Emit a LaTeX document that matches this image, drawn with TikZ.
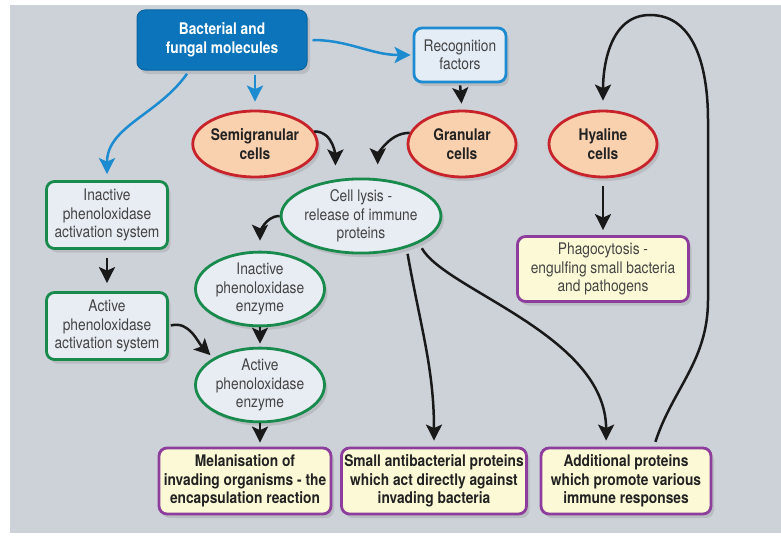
\documentclass[tikz,border=0pt]{standalone}
\usepackage{fontspec}
\setmainfont{TeX Gyre Heros}[FakeStretch=0.86]
\usetikzlibrary{shapes.geometric,arrows.meta,shadows}
\definecolor{pBg}{HTML}{CDD2D9}
\definecolor{pBlue}{HTML}{0C74BA}
\definecolor{pBlueLine}{HTML}{1C8BD0}
\definecolor{pBlueFill}{HTML}{E4ECF6}
\definecolor{pPeach}{HTML}{FAD1AE}
\definecolor{pRed}{HTML}{C8232B}
\definecolor{pGreen}{HTML}{178A4C}
\definecolor{pGreyFill}{HTML}{E8EDF4}
\definecolor{pPurple}{HTML}{8D3D9B}
\definecolor{pCream}{HTML}{FCFAD6}
\definecolor{pText}{HTML}{444444}
\definecolor{pDark}{HTML}{222222}
\newcommand{\pDiagFont}{\fontsize{16}{18.5}\selectfont}

\begin{document}
\begin{tikzpicture}[x=1pt,y=-1pt,
  pShadow/.style={drop shadow={shadow xshift=3pt,shadow yshift=-4pt,opacity=.25}},
  pBox/.style={rectangle,rounded corners=8pt,line width=2.8pt,align=center,inner sep=0pt,font=\pDiagFont,text=pText,pShadow},
  pOval/.style={ellipse,line width=2.8pt,align=center,inner sep=0pt,font=\pDiagFont,text=pText,pShadow},
  pCell/.style={pOval,draw=pRed,fill=pPeach,font=\pDiagFont\bfseries,text=pDark,minimum width=108pt,minimum height=66pt},
  pGreenBox/.style={pBox,draw=pGreen,fill=pGreyFill,minimum width=121pt,minimum height=67pt},
  pGreenOval/.style={pOval,draw=pGreen,fill=pGreyFill,minimum width=129pt,minimum height=72pt},
  pResult/.style={pBox,draw=pPurple,fill=pCream,font=\pDiagFont\bfseries,text=pDark,minimum height=66pt},
  pArrow/.style={line width=2.5pt,draw=black!90,-{Stealth[length=16pt,width=16pt,inset=3.5pt]}},
  pBlueArrow/.style={pArrow,draw=pBlueLine}]
\fill[white] (0,0) rectangle (781,535);
\useasboundingbox (0,0) rectangle (781,535);
\fill[pBg] (10,5) rectangle (781,533);
\node[pBox,fill=pBlue,draw=pBlue!85!black,line width=1pt,text=white,font=\pDiagFont\bfseries,minimum width=170pt,minimum height=60pt] (bact) at (222,40) {Bacterial and\\fungal molecules};
\node[pBox,draw=pBlueLine,fill=pBlueFill,minimum width=92pt,minimum height=54pt] (recog) at (460,55) {Recognition\\factors};
\node[pCell] (semi) at (255,144) {Semigranular\\cells};
\node[pCell] (gran) at (462,144) {Granular\\cells};
\node[pCell] (hyal) at (603,144) {Hyaline\\cells};
\node[pGreenBox] (inact) at (107,215) {Inactive\\phenoloxidase\\activation system};
\node[pGreenOval,minimum width=130pt,minimum height=71pt] (lysis) at (361,216) {Cell lysis -\\release of immune\\proteins};
\node[pBox,draw=pPurple,fill=pCream,minimum width=171pt,minimum height=65pt] (phago) at (603,269) {Phagocytosis -\\engulfing small bacteria\\and pathogens};
\node[pGreenOval] (inenz) at (260,289) {Inactive\\phenoloxidase\\enzyme};
\node[pGreenBox] (act) at (107,326) {Active\\phenoloxidase\\activation system};
\node[pGreenOval] (actenz) at (260,385) {Active\\phenoloxidase\\enzyme};
\node[pResult,minimum width=172pt] (mel) at (245,481) {Melanisation of\\invading organisms - the\\encapsulation reaction};
\node[pResult,minimum width=185pt] (small) at (434,481) {Small antibacterial proteins\\which act directly against\\invading bacteria};
\node[pResult,minimum width=170pt] (add) at (626,481) {Additional proteins\\which promote various\\immune responses};
\coordinate (loopRight) at (708,300);
\coordinate (loopUpper) at (708,120);
\coordinate (loopTop) at (650,15);

\draw[pBlueArrow,shorten <=5pt,shorten >=2pt] (bact.east) to[out=0,in=180] (recog.west);
\draw[pBlueArrow,shorten <=4pt,shorten >=8pt] (bact.south -| semi.north) -- (semi.north);
\draw[pBlueArrow,shorten <=4pt,shorten >=6pt] (bact.223) to[out=235,in=90] (inact.north);
\draw[pArrow,shorten <=2pt,shorten >=6pt] (recog.south) -- (gran.north);
\draw[pArrow,shorten >=14pt] (semi.12) to[out=0,in=90] (lysis.125);
\draw[pArrow,shorten >=14pt] (gran.168) to[out=180,in=90] (lysis.66);
\draw[pArrow,shorten >=10pt] (lysis.west) to[out=180,in=90] (inenz.north);
\draw[pArrow,shorten <=8pt,shorten >=8pt] (inact.south) -- (act.north);
\draw[pArrow,shorten <=2pt,shorten >=4pt] (act.east) to[out=15,in=135] (actenz.150);
\draw[pArrow,shorten >=3pt] (inenz.south) -- (actenz.north);
\draw[pArrow,shorten >=4pt] (actenz.south) -- (actenz.south |- mel.north);
\draw[pArrow,shorten <=6pt,shorten >=6pt] (lysis.-35) to[out=-80,in=90] (small.north);
\draw[pArrow,shorten <=6pt,shorten >=6pt] (lysis.-25) .. controls (445,290) and (606,335) .. (add.120);
\draw[pArrow,shorten <=8pt,shorten >=5pt] (hyal.south) -- (phago.north);
\draw[pArrow,shorten <=5pt,shorten >=9pt] (add.51) to[out=72,in=-90] (loopRight) -- (loopUpper) to[out=90,in=0] (loopTop) to[out=180,in=90] (hyal.north);
\end{tikzpicture}
\end{document}
